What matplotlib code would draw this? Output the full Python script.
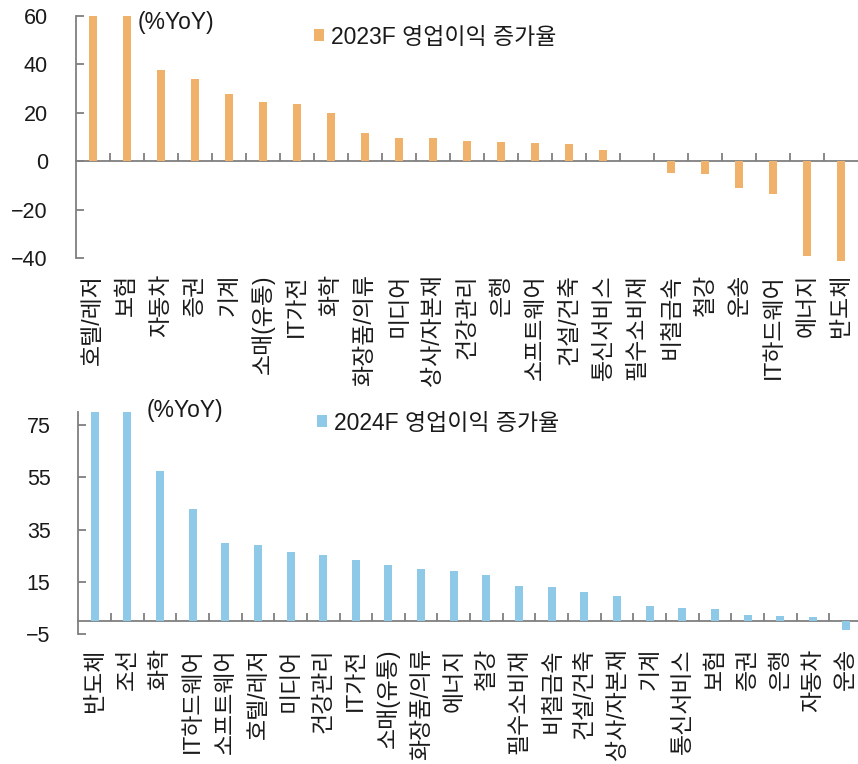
import matplotlib
matplotlib.use("Agg")
import matplotlib.pyplot as plt
import numpy as np

plt.rcParams['font.family'] = ['Liberation Sans', 'Noto Sans CJK KR', 'DejaVu Sans']
plt.rcParams['xtick.labelsize'] = 16.5
plt.rcParams['ytick.labelsize'] = 15.5

# 2023F operating profit growth by sector (%YoY)
sectors_2023 = ['호텔/레저', '보험', '자동차', '증권', '기계', '소매(유통)', 'IT가전', '화학',
                '화장품/의류', '미디어', '상사/자본재', '건강관리', '은행', '소프트웨어',
                '건설/건축', '통신서비스', '필수소비재', '비철금속', '철강', '운송',
                'IT하드웨어', '에너지', '반도체']
growth_2023 = [60.0, 60.0, 37.6, 33.8, 27.6, 24.4, 23.5, 20.0, 11.6, 9.5, 9.5, 8.5, 7.8,
               7.7, 7.2, 4.7, 0.0, -5.0, -5.4, -11.0, -13.4, -39.3, -41.3]

# 2024F operating profit growth by sector (%YoY)
sectors_2024 = ['반도체', '조선', '화학', 'IT하드웨어', '소프트웨어', '호텔/레저', '미디어',
                '건강관리', 'IT가전', '소매(유통)', '화장품/의류', '에너지', '철강',
                '필수소비재', '비철금속', '건설/건축', '상사/자본재', '기계', '통신서비스',
                '보험', '증권', '은행', '자동차', '운송']
growth_2024 = [80.0, 80.0, 57.6, 43.0, 30.1, 29.1, 26.3, 25.2, 23.3, 21.5, 19.8, 19.1, 17.8,
               13.5, 12.9, 11.1, 9.8, 6.0, 5.0, 4.6, 2.3, 2.0, 1.7, -3.4]

yticks_2023 = [-40, -20, 0, 20, 40, 60]
yticks_2024 = [-5, 15, 35, 55, 75]

ORANGE = '#F0B26B'
BLUE = '#8FC9E8'
GRAY = '#7F7F7F'
TEXT = '#1a1a1a'

W, H = 858, 764
fig = plt.figure(figsize=(W / 100, H / 100), dpi=100)


def panel(rect, cats, vals, color, ylim, spine_lo, yticks, xmax, label, unit_xy, leg_xy,
          xpad):
    ax = fig.add_axes(rect)
    x = np.arange(len(cats))
    ax.bar(x, vals, width=0.245, color=color, label=label, zorder=2)
    ax.set_xlim(-0.5, xmax)
    ax.set_ylim(*ylim)
    for s in ('top', 'right', 'bottom'):
        ax.spines[s].set_visible(False)
    ax.spines['left'].set_color(GRAY)
    ax.spines['left'].set_linewidth(1.3)
    ax.spines['left'].set_bounds(spine_lo, ylim[1])
    ax.set_yticks(yticks)
    ax.tick_params(axis='y', direction='in', length=5.5, width=1.3, color=GRAY,
                   pad=20, labelcolor=TEXT)
    ax.set_xticks(x)
    ax.set_xticklabels(cats, rotation=90, va='top', ha='center')
    ax.tick_params(axis='x', length=0, pad=xpad, labelcolor=TEXT)

    # zero line with category-boundary ticks
    zfrac = (0 - ylim[0]) / (ylim[1] - ylim[0])
    sec = ax.secondary_xaxis(zfrac)
    sec.spines['bottom'].set_color(GRAY)
    sec.spines['bottom'].set_linewidth(1.3)
    sec.set_xticks(x[:-1] + 0.5)
    sec.tick_params(axis='x', direction='in', length=5.5, width=1.3, color=GRAY,
                    labelbottom=False)

    fig.text(unit_xy[0] / W, 1 - unit_xy[1] / H, '(%YoY)', fontsize=16.5,
             va='center', ha='left', color=TEXT)
    ax.legend(loc='center left', bbox_to_anchor=(leg_xy[0] / W, 1 - leg_xy[1] / H),
              bbox_transform=fig.transFigure, frameon=False, fontsize=16.5,
              handlelength=0.45, handleheight=0.45, handletextpad=0.3,
              borderpad=0, borderaxespad=0, labelcolor=TEXT)
    return ax


# top panel: -40 sits at y=258 px, 2.42 px per unit; bars may run slightly past -40
panel([75.7 / W, 1 - 261.6 / H, (W - 75.7) / W, 245.6 / H], sectors_2023, growth_2023,
      ORANGE, (-41.5, 60), -40, yticks_2023, 22.5, '2023F 영업이익 증가율',
      (138, 23), (314, 37), 9)

panel([78.3 / W, 1 - 634.3 / H, (W - 78.3) / W, 222.3 / H], sectors_2024, growth_2024,
      BLUE, (-5, 80), -5, yticks_2024, 23.38, '2024F 영업이익 증가율',
      (147, 410), (317, 423), 10)

fig.savefig('out.png', dpi=100)
